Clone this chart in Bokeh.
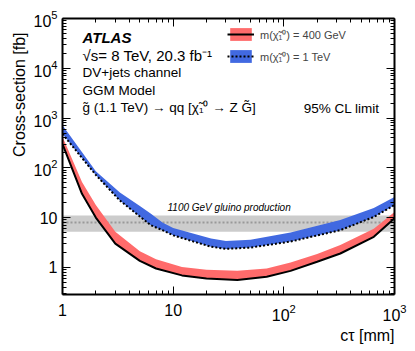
import math
from bokeh.plotting import figure
from bokeh.models import (Label, Legend, LegendItem, BoxAnnotation, Span, LogAxis, Title,
                          FixedTicker, LogTickFormatter, Range1d, CustomJSTickFormatter)
from bokeh.embed import file_html
from bokeh.resources import INLINE

FONT = "Liberation Sans"

# ---- data ----
# m(chi) = 400 GeV : observed limit (black line) and band upper edge
ctau_400 = [1, 1.5, 2, 3, 5, 7, 12, 20, 38, 70, 115, 200, 324, 650, 1000]
xs_400_low = [300, 30, 10, 3.0, 1.35, 0.95, 0.69, 0.60, 0.56, 0.65, 0.85, 1.3, 1.9, 4.1, 9.7]
xs_400_high = [420, 52, 18, 5.2, 2.1, 1.45, 1.02, 0.9, 0.86, 0.95, 1.25, 1.85, 2.8, 6.0, 13.0]

# m(chi) = 1 TeV : observed limit (dotted line) and band upper edge
ctau_1tev = [1, 2, 3.3, 5, 6.3, 8, 10, 14, 22, 30, 50, 115, 324, 650, 1000]
xs_1tev_low = [480, 72, 22, 10.5, 7.0, 5.6, 4.4, 3.5, 2.6, 2.35, 2.5, 3.3, 5.6, 10.3, 17.8]
xs_1tev_high = [720, 85, 32, 17, 12.0, 8.0, 6.2, 5.0, 3.8, 3.4, 3.6, 5.0, 8.9, 15.5, 26.0]

# 1100 GeV gluino production cross-section and its uncertainty band
gluino_xsec = 7.95
gluino_xsec_lo = 5.2
gluino_xsec_hi = 11.0

x_ticks = [1, 10, 100, 1000]
y_ticks = [1, 10, 100, 1000, 10000, 100000]

RED = "#ff6b6b"
BLUE = "#4169e1"

p = figure(width=407, height=346, x_axis_type="log", y_axis_type="log",
           x_range=Range1d(1, 1000), y_range=Range1d(0.285, 1e5),
           output_backend="svg", toolbar_location=None,
           min_border_left=62, min_border_right=13, min_border_top=18, min_border_bottom=52)
p.outline_line_color = None
p.grid.visible = False
p.background_fill_color = "white"

x_minor = [m * d for d in [1, 10, 100] for m in range(2, 10)]
y_minor = [m * d for d in [0.1, 1, 10, 100, 1000, 10000] for m in range(2, 10)]


def style_axis(ax, ticks, minor, labels=True):
    ax.ticker = FixedTicker(ticks=ticks, minor_ticks=minor)
    ax.axis_line_width = 2
    ax.axis_line_color = "black"
    ax.major_tick_in = 8
    ax.major_tick_out = 0
    ax.minor_tick_in = 4
    ax.minor_tick_out = 0
    ax.major_tick_line_width = 1
    ax.minor_tick_line_width = 1
    ax.major_tick_line_color = "black"
    ax.minor_tick_line_color = "black"
    if labels:
        ax.formatter = LogTickFormatter(min_exponent=2)
        ax.major_label_text_font = FONT
        ax.major_label_text_font_size = "16px"
        ax.major_label_text_color = "black"
        ax.major_label_standoff = 6
    else:
        ax.formatter = CustomJSTickFormatter(code="return ''")
        ax.major_label_text_font_size = "1px"
        ax.major_label_standoff = 0


style_axis(p.xaxis[0], x_ticks, x_minor)
style_axis(p.yaxis[0], y_ticks, y_minor)
p.yaxis[0].major_label_standoff = 5
p.xaxis[0].major_label_standoff = 9

top_axis = LogAxis()
style_axis(top_axis, x_ticks, x_minor, labels=False)
p.add_layout(top_axis, "above")
right_axis = LogAxis()
style_axis(right_axis, y_ticks, y_minor, labels=False)
p.add_layout(right_axis, "right")

# axis titles (right-aligned, ROOT style)
xt = Title(text="cτ [mm]", align="right", text_font=FONT, text_font_size="16px",
           text_font_style="normal", text_color="black", standoff=2, offset=0)
p.add_layout(xt, "below")
yt = Title(text="Cross-section [fb]", align="right", text_font=FONT, text_font_size="16px",
           text_font_style="normal", text_color="black", standoff=6, offset=14)
p.add_layout(yt, "left")

# gluino production band
p.add_layout(BoxAnnotation(bottom=gluino_xsec_lo, top=gluino_xsec_hi,
                           fill_color="#cccccc", fill_alpha=1.0, line_color=None,
                           level="underlay"))
p.add_layout(Span(location=gluino_xsec, dimension="width", line_color="#999999",
                  line_width=2, line_dash="2 2", level="underlay"))

red_band = p.varea(x=ctau_400, y1=xs_400_low, y2=xs_400_high, fill_color=RED, fill_alpha=1.0)
blue_band = p.varea(x=ctau_1tev, y1=xs_1tev_low, y2=xs_1tev_high, fill_color=BLUE, fill_alpha=1.0)
red_line = p.line(ctau_400, xs_400_low, line_color="black", line_width=2)
blue_line = p.line(ctau_1tev, xs_1tev_low, line_color="black", line_width=2, line_dash="2 2")

legend = Legend(items=[
    LegendItem(label="m(χ̃₁⁰) = 400 GeV", renderers=[red_band, red_line]),
    LegendItem(label="m(χ̃₁⁰) = 1 TeV", renderers=[blue_band, blue_line]),
], location=(165, 230))
legend.padding = 0
legend.margin = 0
legend.spacing = 6
legend.glyph_width = 27
legend.glyph_height = 16
legend.label_height = 16
legend.label_standoff = 6
legend.label_text_font = FONT
legend.label_text_font_size = "11px"
legend.border_line_color = None
legend.background_fill_alpha = 0
p.add_layout(legend)


def lab(x, y, text, size="13.5px", style="normal", align="left", baseline="middle"):
    p.add_layout(Label(x=x, y=y, x_units="screen", y_units="screen", text=text,
                       text_font=FONT, text_font_size=size, text_font_style=style,
                       text_align=align, text_baseline=baseline, text_color="black"))


lab(20, 257, "ATLAS", size="15px", style="bold italic")
lab(20, 239, "√s= 8 TeV, 20.3 fb⁻¹", size="15px")
lab(20, 222, "DV+jets channel")
lab(20, 204, "GGM Model")
lab(20, 187, "g̃ (1.1 TeV) → qq [χ̃₁⁰ → Z G̃]")
lab(317, 186, "95% CL limit", align="right")
lab(105, 87, "1100 GeV gluino production", size="10px", style="italic")

open("out.html", "w").write(file_html(p, INLINE))
